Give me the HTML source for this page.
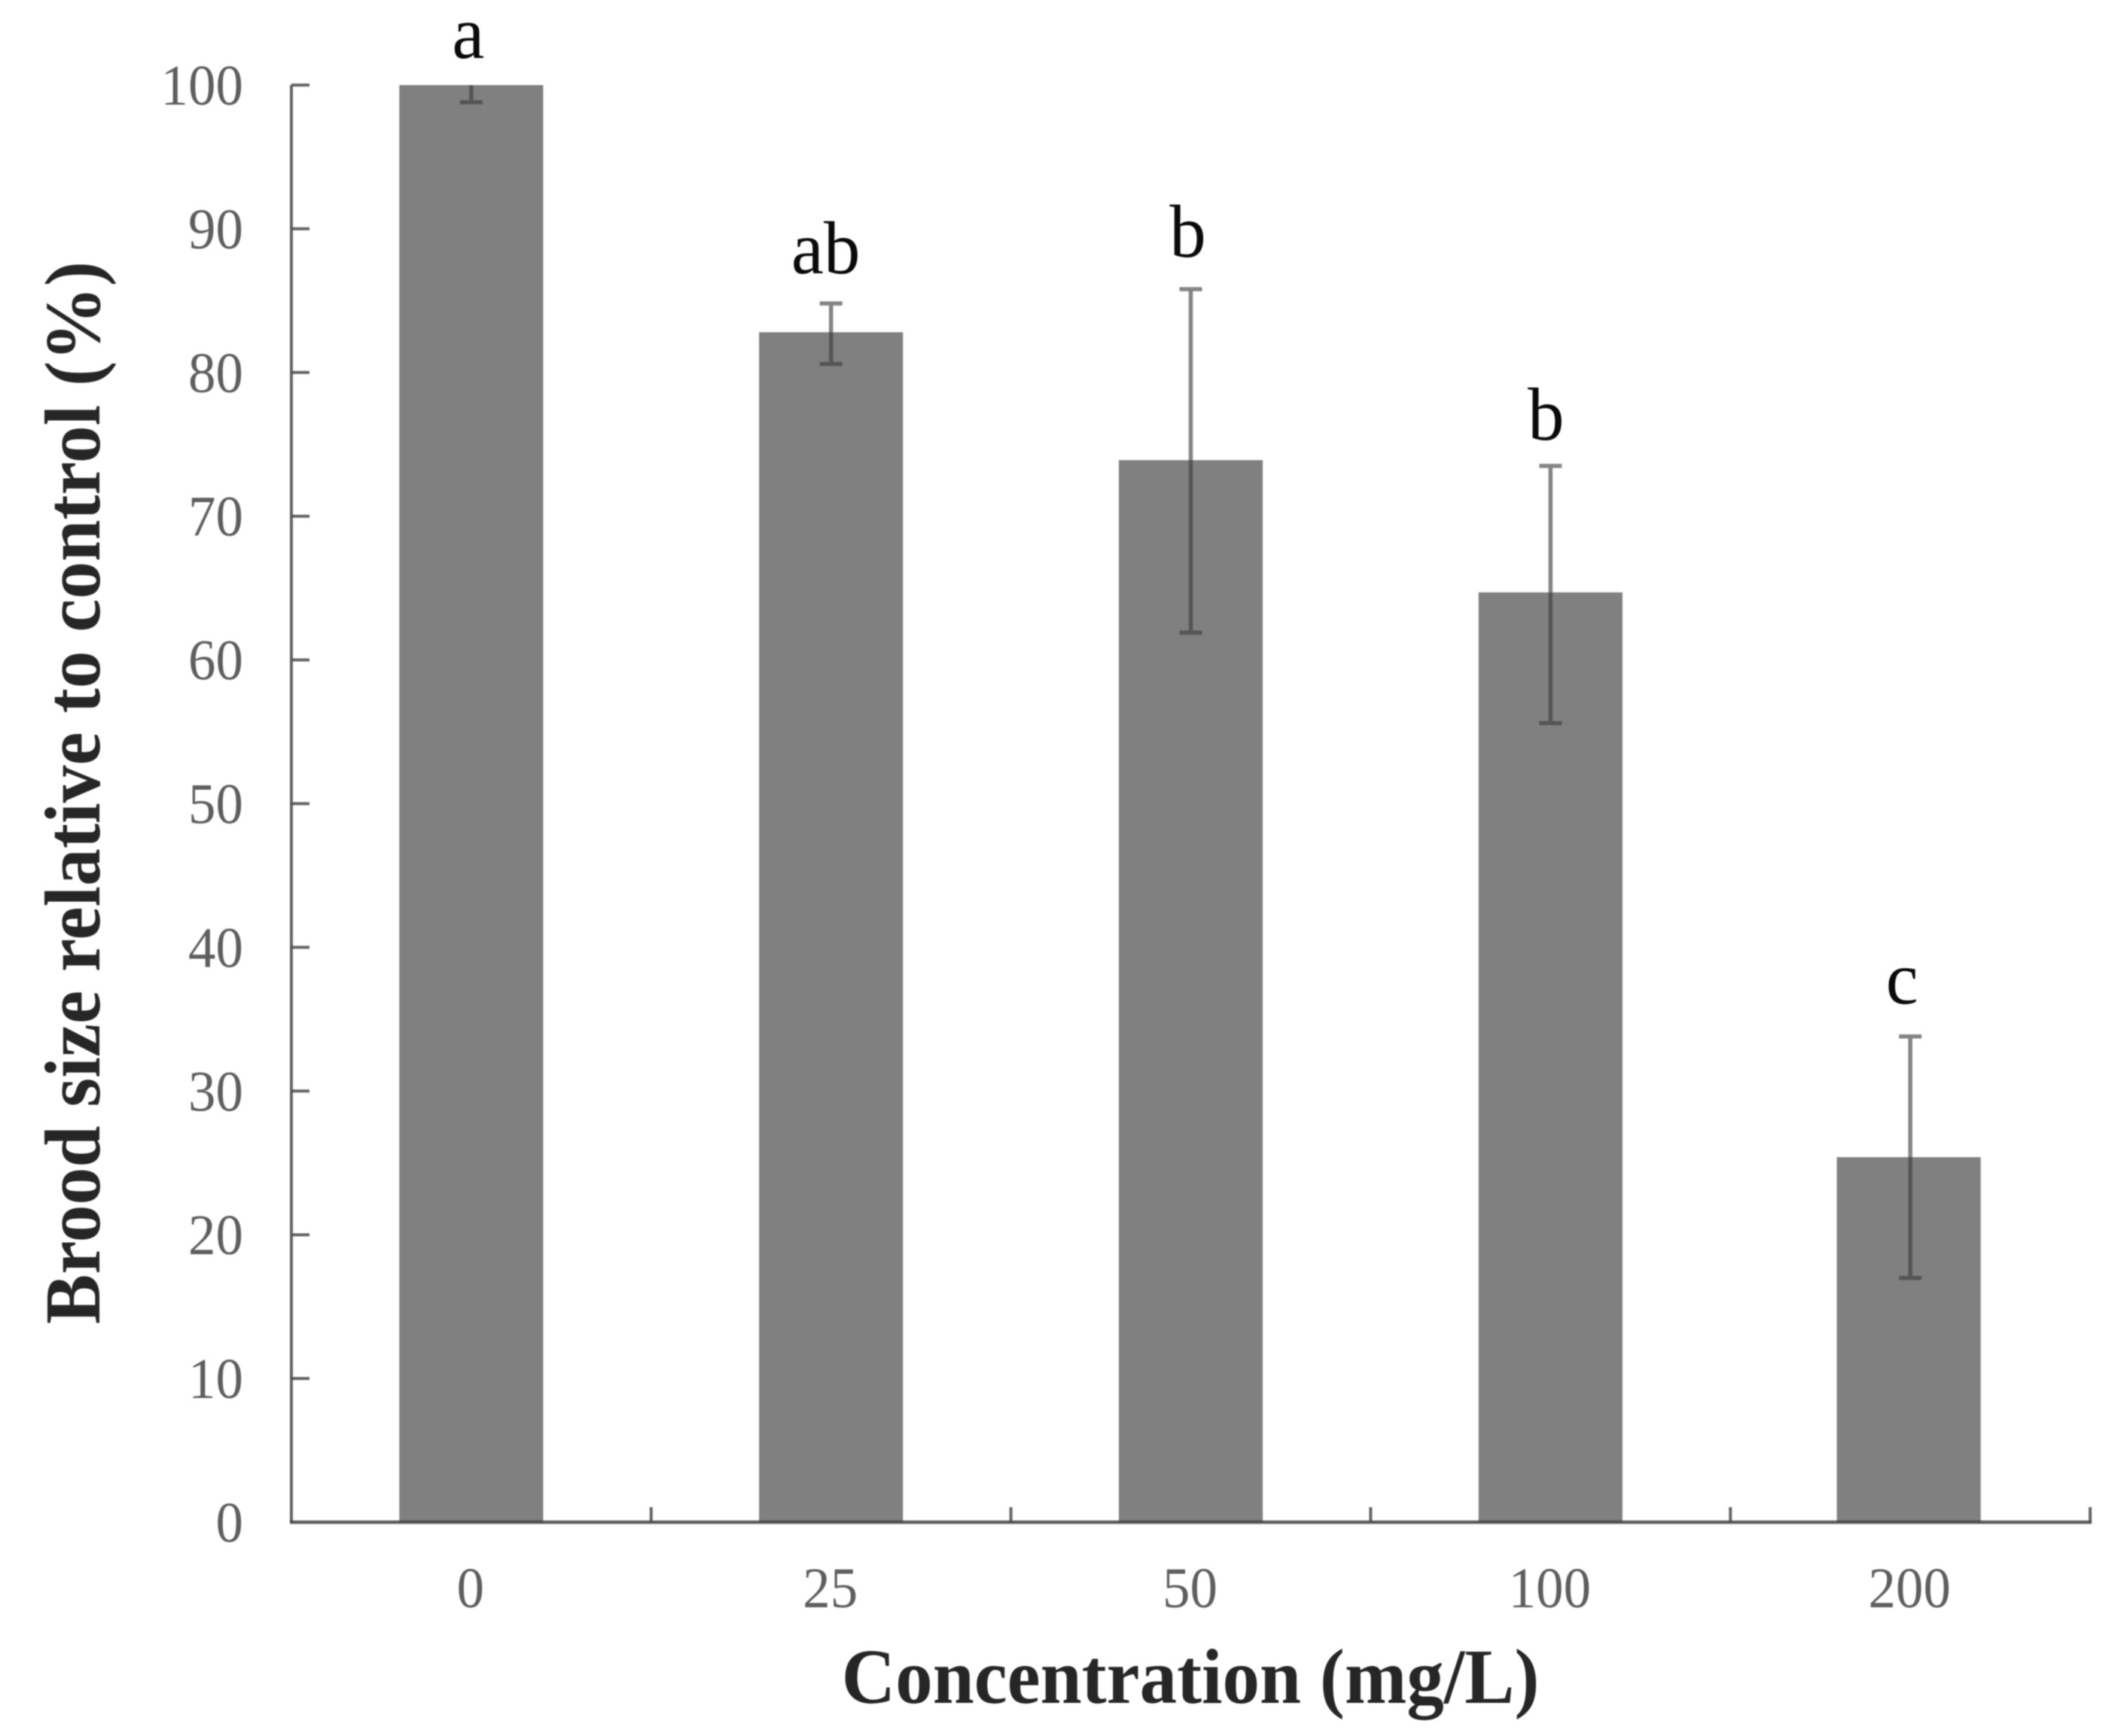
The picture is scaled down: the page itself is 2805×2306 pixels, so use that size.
<!DOCTYPE html>
<html lang="en">
<head>
<meta charset="utf-8">
<title>Brood size relative to control</title>
<style>
  html, body { margin: 0; padding: 0; background: #ffffff; }
  body { width: 2805px; height: 2306px; overflow: hidden; }
  svg { display: block; filter: blur(0.9px); }
  text { font-family: "Liberation Serif", "Times New Roman", serif; }
</style>
</head>
<body>
<svg id="chart" xmlns="http://www.w3.org/2000/svg" width="2805" height="2306" viewBox="0 0 2805 2306">
  <rect x="0" y="0" width="2805" height="2306" fill="#ffffff"/>
  <g id="bars"></g>
  <g id="errors"></g>
  <g id="axes"></g>
  <g id="letters"></g>
  <text x="1581" y="2262" text-anchor="middle" font-size="99" font-weight="bold" fill="#262626" transform="translate(0 2262) scale(1 1.05) translate(0 -2262)">Concentration (mg/L)</text>
  <text x="0" y="0" text-anchor="middle" font-size="99.5" font-weight="bold" fill="#262626" transform="translate(132 1053) rotate(-90) scale(1 1.05)">Brood size relative to control (%)</text>
</svg>
<script>
var categories = ['0', '25', '50', '100', '200'];
var meanValues = [100, 82.8, 73.9, 64.7, 25.4];
var errorHigh = [100, 84.8, 85.8, 73.5, 33.8];
var errorLow = [98.8, 80.6, 61.9, 55.6, 17];
var significance = ['a', 'ab', 'b', 'b', 'c'];
var yTicks = [0, 10, 20, 30, 40, 50, 60, 70, 80, 90, 100];

var NS = 'http://www.w3.org/2000/svg';
var plotLeft = 387, plotRight = 2776, plotBottom = 2022, plotTop = 113;
var yMax = 100, barWidthShare = 0.4;

function yScale(v) {
  return plotBottom - (v / yMax) * (plotBottom - plotTop);
}
function bandWidth() {
  return (plotRight - plotLeft) / categories.length;
}
function xCenter(i) {
  return plotLeft + bandWidth() * (i + 0.5);
}
function make(tag, attrs, parent) {
  var el = document.createElementNS(NS, tag);
  for (var k in attrs) el.setAttribute(k, attrs[k]);
  parent.appendChild(el);
  return el;
}

var barsG = document.getElementById('bars');
var errorsG = document.getElementById('errors');
var axesG = document.getElementById('axes');
var lettersG = document.getElementById('letters');

/* bars and error bars */
categories.forEach(function (cat, i) {
  var w = bandWidth() * barWidthShare;
  var top = yScale(meanValues[i]);
  var nudge = i === categories.length - 1 ? -2 : 0;
  var bar = make('rect', { x: xCenter(i) - w / 2 + nudge, y: top, width: w, height: plotBottom - top, fill: '#808080' }, barsG);
  
  

  var cx = xCenter(i), hi = yScale(errorHigh[i]), lo = yScale(errorLow[i]);
  var d = 'M' + cx + ' ' + hi + 'V' + lo + 'M' + (cx - 15) + ' ' + lo + 'H' + (cx + 15);
  /* a top cap sitting on the axis maximum is cut off in the chart */
  if (errorHigh[i] < yMax) d += 'M' + (cx - 15) + ' ' + hi + 'H' + (cx + 15);
  var err = make('path', { d: d, fill: 'none', stroke: '#3a3a3a', 'stroke-opacity': '0.62', 'stroke-width': 5.5 }, errorsG);
  
  
});

/* y axis */
var yAxis = make('line', { x1: plotLeft, x2: plotLeft, y1: yScale(yMax), y2: plotBottom, stroke: '#4a4a4a', 'stroke-opacity': '0.85', 'stroke-width': 4 }, axesG);



yTicks.forEach(function (t) {
  var y = yScale(t);
  if (t > 0) {
    var tick = make('line', { x1: plotLeft, x2: plotLeft + 24, y1: y, y2: y, stroke: '#4a4a4a', 'stroke-opacity': '0.85', 'stroke-width': 4 }, axesG);
    
    
  }
  var label = make('text', { x: 0, y: 0, 'text-anchor': 'end', 'font-size': 73, fill: '#5e5e5e', transform: 'translate(323 ' + (y + 26) + ') scale(1 1.05)' }, axesG);
  
  
  label.textContent = t;
});

/* x axis */
var xAxis = make('line', { x1: plotLeft - 2, x2: plotRight + 2, y1: plotBottom, y2: plotBottom, stroke: '#3f3f3f', 'stroke-opacity': '0.85', 'stroke-width': 4.5 }, axesG);



for (var b = 1; b <= categories.length; b++) {
  var tx = plotLeft + bandWidth() * b;
  var xt = make('line', { x1: tx, x2: tx, y1: plotBottom, y2: plotBottom - 20, stroke: '#4a4a4a', 'stroke-opacity': '0.85', 'stroke-width': 4 }, axesG);
  
  
}

categories.forEach(function (cat, i) {
  var label = make('text', { x: 0, y: 0, 'text-anchor': 'middle', 'font-size': 73, fill: '#5e5e5e', transform: 'translate(' + (xCenter(i) - 1) + ' 2135) scale(1 1.05)' }, axesG);
  
  
  label.textContent = cat;
});

/* significance letters: nudged from the top of each error bar */
function placeLetter(i, dx, gap) {
  var x = xCenter(i) + dx, y = yScale(errorHigh[i]) - gap;
  var el = make('text', {
    x: 0, y: 0, 'text-anchor': 'middle', 'font-size': 97, fill: '#0a0a0a',
    transform: 'translate(' + x + ' ' + y + ') scale(1 1.03)'
  }, lettersG);
  
  
  el.textContent = significance[i];
}
placeLetter(0, -4, 36);
placeLetter(1, -7, 40);
placeLetter(2, -4, 43);
placeLetter(3, -6, 35);
placeLetter(4, -11, 44);
</script>
</body>
</html>
